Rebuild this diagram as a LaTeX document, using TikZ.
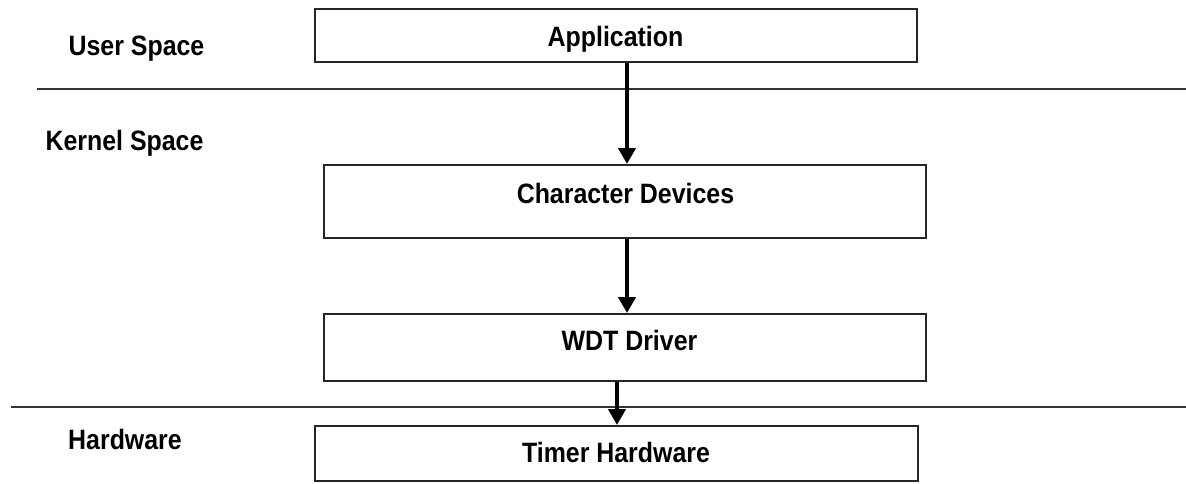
\documentclass[tikz,border=0pt]{standalone}
\usepackage{fontspec}
\newfontfamily\lblfont[FakeStretch=0.89]{Liberation Sans Bold}
\usetikzlibrary{arrows.meta}
\begin{document}
\begin{tikzpicture}[x=1pt,y=-1pt,
  box/.style={draw=black!85, line width=2pt, minimum width=602pt, inner sep=0pt},
  lbl/.style={font=\lblfont\fontsize{28}{30}\selectfont, anchor=base, inner sep=0pt},
  sep/.style={draw=black!80, line width=2pt},
  flow/.style={line width=4.5pt, -{Triangle[length=16pt,width=17pt]}}]
\path[use as bounding box] (0,0) rectangle (1186,483);
\node[box, minimum height=53pt] (app) at (616,35.5) {};
\node[box, minimum height=73pt] (cd) at (625,201.5) {};
\node[box, minimum height=67pt] (wdt) at (625,347.5) {};
\node[box, minimum height=55pt, minimum width=603pt] (timer) at (616.5,453.5) {};
\node[lbl] (tapp) at (615.5,46) {Application};
\node[lbl] (tcd) at (625.5,203) {Character Devices};
\node[lbl] (twdt) at (629.5,350) {WDT Driver};
\node[lbl] (ttimer) at (616,462) {Timer Hardware};
\node[lbl] (tuser) at (136.5,55) {User Space};
\node[lbl] (tkernel) at (124.5,150) {Kernel Space};
\node[lbl] (thw) at (125,449) {Hardware};
\draw[sep] (37,88.5) -- (1186,88.5);
\draw[sep] (11,407) -- (1186,407);
\draw[flow] ([xshift=11pt]app.south) -- ([xshift=2pt]cd.north);
\draw[flow] ([xshift=2pt]cd.south) -- ([xshift=2pt]wdt.north);
\draw[flow] ([xshift=-8pt]wdt.south) -- ([xshift=0.5pt]timer.north);
\end{tikzpicture}
\end{document}
